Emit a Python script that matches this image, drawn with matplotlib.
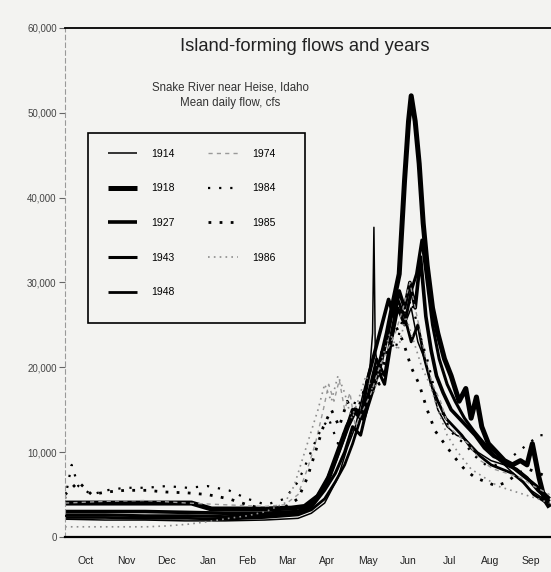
import matplotlib
matplotlib.use("Agg")
import matplotlib.pyplot as plt
from matplotlib.patches import Rectangle
import numpy as np

plt.rcParams['font.family'] = ['Liberation Sans', 'DejaVu Sans']

# Mean daily flow (thousand cfs), day 0 = Oct 1
D1914 = [0, 30, 60, 90, 120, 150, 175, 185, 195, 205, 212, 218, 224, 229, 231, 232, 233, 236, 240,
         245, 250, 255, 260, 265, 270, 275, 280, 287, 294, 301, 310, 320, 330, 340, 350, 364]
F1914 = [2.1, 2.0, 2.0, 1.9, 1.9, 2.0, 2.2, 2.8, 4.0, 7.0, 10.5, 13, 17, 20, 24, 36.5, 22, 19, 23,
         26, 28, 25, 27, 23, 21, 18, 15, 13, 12, 11.5, 10, 9, 8.5, 7, 5.5, 4.0]

D1918 = [0, 20, 45, 70, 95, 110, 130, 150, 170, 180, 190, 198, 205, 212, 218, 224, 230, 236, 242,
         247, 251, 255, 258, 260, 263, 266, 269, 272, 276, 280, 285, 290, 296, 301, 305, 309, 313,
         318, 324, 330, 336, 342, 347, 351, 356, 360, 364]
F1918 = [4.0, 4.0, 4.0, 4.0, 4.0, 3.3, 3.3, 3.3, 3.4, 3.6, 4.8, 7, 10, 13, 15, 14, 17, 20, 24,
         28, 31, 42, 49, 52, 49, 44, 37, 32, 27, 24, 21, 19, 16, 17.5, 14, 16.5, 13,
         11, 10, 9, 8.5, 9, 8.5, 11, 7, 4.5, 3.5]

D1927 = [0, 30, 60, 92, 120, 150, 175, 185, 195, 203, 210, 216, 222, 228, 233, 238, 243, 247, 251,
         255, 259, 263, 267, 271, 275, 279, 284, 290, 296, 302, 308, 315, 322, 330, 338, 346, 354, 364]
F1927 = [3.0, 3.0, 3.0, 2.9, 2.8, 2.8, 3.0, 3.8, 6, 9, 12, 15, 14, 19, 22, 25, 28, 26, 29,
         27, 30, 27, 33, 26, 22, 19, 17, 15, 14, 13, 12, 10.5, 9.5, 9, 8, 7, 6, 4.5]

D1943 = [0, 30, 60, 92, 120, 150, 175, 185, 195, 203, 210, 216, 222, 228, 234, 240, 245, 250, 255,
         260, 264, 268, 272, 276, 281, 287, 293, 300, 307, 315, 323, 331, 339, 347, 355, 364]
F1943 = [2.6, 2.6, 2.5, 2.5, 2.4, 2.5, 2.8, 3.5, 5.5, 7.5, 10, 13, 12, 16, 20, 18, 23, 27, 25,
         29, 31, 35, 30, 25, 21, 18, 16, 14, 12.5, 11, 9.5, 8.5, 8, 7, 5.5, 4.2]

D1948 = [0, 30, 60, 92, 120, 150, 175, 185, 195, 203, 210, 216, 222, 228, 234, 240, 245, 250, 255,
         260, 265, 270, 275, 280, 286, 292, 298, 305, 312, 320, 328, 336, 344, 352, 364]
F1948 = [2.3, 2.3, 2.2, 2.2, 2.1, 2.3, 2.6, 3.2, 4.5, 6.5, 8.5, 11, 14, 17, 21, 19, 24, 28, 26,
         23, 25, 21, 18, 16, 14, 13, 12, 10.5, 9.5, 8.5, 8, 7.5, 6.5, 5, 3.8]

D1974 = [0, 30, 60, 92, 120, 150, 165, 175, 182, 188, 194, 198, 202, 206, 210, 214, 218, 224, 230,
         236, 242, 248, 254, 259, 263, 267, 271, 276, 282, 288, 295, 303, 312, 322, 332, 342, 352, 364]
F1974 = [4.0, 4.2, 4.3, 4.0, 3.8, 3.6, 3.8, 5, 8, 11, 15, 18, 16, 18.5, 15, 17, 13, 15, 17,
         20, 22, 24, 27, 30, 27, 24, 21, 18, 16, 13, 12, 11, 9, 8, 7.5, 7, 6, 5]

D1984 = [0, 5, 10, 20, 31, 45, 61, 76, 92, 107, 123, 137, 151, 165, 175, 182, 190, 198, 205, 212,
         218, 224, 230, 236, 242, 248, 254, 260, 266, 272, 278, 285, 292, 300, 308, 316, 324, 332,
         340, 348, 356, 364]
F1984 = [4.5, 8.5, 6, 5, 5.5, 5.8, 5.8, 6.0, 5.8, 6.0, 5.5, 4.5, 3.8, 4.5, 6.5, 9, 12, 14, 11, 13,
         16, 14, 18, 21, 24, 22, 26, 28, 24, 21, 17, 14, 12, 11, 9.5, 8.5, 8.5, 9,
         10, 11, 12, 12]

D1985 = [0, 10, 20, 31, 45, 61, 76, 92, 107, 123, 137, 151, 165, 175, 182, 188, 194, 200, 206, 212,
         218, 224, 230, 236, 242, 248, 254, 260, 266, 272, 278, 285, 292, 300, 308, 316, 324, 332,
         340, 348, 356, 364]
F1985 = [5.0, 6.5, 5.0, 5.3, 5.5, 5.5, 5.3, 5.2, 5.0, 4.5, 3.8, 3.2, 3.5, 4.5, 7, 10, 13, 15, 13, 16,
         14, 17, 20, 18, 22, 25, 23, 20, 18, 15, 12.5, 11, 9.5, 8, 7, 6.5, 6, 6.5,
         7.5, 8, 7.5, 7]

D1986 = [0, 15, 31, 45, 61, 76, 92, 107, 123, 137, 151, 165, 172, 178, 184, 190, 195, 200, 205, 210,
         215, 220, 226, 232, 238, 244, 250, 256, 262, 268, 274, 280, 287, 295, 305, 315, 325, 335,
         345, 355, 364]
F1986 = [1.2, 1.2, 1.2, 1.2, 1.2, 1.3, 1.5, 1.8, 2.2, 2.5, 3, 4, 6, 9, 12, 15, 18, 16, 19, 17,
         14, 16, 19, 17, 21, 24, 22, 26, 23, 20, 18, 15, 12, 10, 8, 7, 6, 5.5,
         5, 4.5, 4]

MONTHS = ['Oct', 'Nov', 'Dec', 'Jan', 'Feb', 'Mar', 'Apr', 'May', 'Jun', 'Jul', 'Aug', 'Sep']
MONTH_START = [0, 31, 61, 92, 123, 151, 182, 212, 243, 273, 304, 335, 365]
Y_TICKS = [0, 10000, 20000, 30000, 40000, 50000, 60000]
Y_LABELS = ['0', '10,000', '20,000', '30,000', '40,000', '50,000', '60,000']

# (label, days, flows, style)
series = [
    ('1914', D1914, F1914, dict(color='k', lw=1.1)),
    ('1918', D1918, F1918, dict(color='k', lw=3.6)),
    ('1927', D1927, F1927, dict(color='k', lw=2.6)),
    ('1943', D1943, F1943, dict(color='k', lw=2.2)),
    ('1948', D1948, F1948, dict(color='k', lw=2.0)),
    ('1974', D1974, F1974, dict(color='0.6', lw=1.0, ls=(0, (3, 3)))),
    ('1984', D1984, F1984, dict(color='k', lw=1.6, ls=(0, (1, 4)))),
    ('1985', D1985, F1985, dict(color='k', lw=2.0, ls=(0, (1, 3)))),
    ('1986', D1986, F1986, dict(color='0.55', lw=1.2, ls=(0, (1, 2.5)))),
]

bg = '#f3f3f1'
fig = plt.figure(figsize=(5.51, 5.72), dpi=100, facecolor=bg)
ax = fig.add_axes([0.118, 0.0612, 0.882, 0.89], facecolor=bg)

handles = []
for label, days, flows, st in series:
    h, = ax.plot(days, np.array(flows) * 1000, label=label, solid_capstyle='butt',
                 solid_joinstyle='round', **st)
    handles.append(h)

ax.set_xlim(0, 365)
ax.set_ylim(0, 60000)
ax.set_yticks(Y_TICKS)
ax.set_yticklabels(Y_LABELS)
mids = [(a + b) / 2 for a, b in zip(MONTH_START[:-1], MONTH_START[1:])]
ax.set_xticks(mids)
ax.set_xticklabels(MONTHS)
ax.tick_params(axis='x', length=0, pad=14, labelsize=7.5, labelcolor='#222222')
ax.tick_params(axis='y', length=4, width=0.8, color='0.4', pad=2, labelsize=7, labelcolor='#444444')

ax.spines['right'].set_visible(False)
ax.spines['top'].set_linewidth(1.3)
ax.spines['bottom'].set_linewidth(1.6)
ax.spines['left'].set_color('0.6')
ax.spines['left'].set_linewidth(0.8)
ax.spines['left'].set_linestyle((0, (4, 3)))

ax.text(0.494, 0.963, 'Island-forming flows and years', transform=ax.transAxes,
        ha='center', va='center', fontsize=13.2, color='#222222')
ax.text(0.34, 0.882, 'Snake River near Heise, Idaho', transform=ax.transAxes,
        ha='center', va='center', fontsize=8.3, color='#333333')
ax.text(0.34, 0.853, 'Mean daily flow, cfs', transform=ax.transAxes,
        ha='center', va='center', fontsize=8.3, color='#333333')

ax.add_patch(Rectangle((0.047, 0.420), 0.447, 0.374, transform=ax.transAxes,
                       fill=False, lw=1.2, ec='k', zorder=5))
ax.legend(handles=handles, ncol=2, loc='upper left', bbox_to_anchor=(0.088, 0.763),
          frameon=False, fontsize=7.5, handlelength=2.8, handletextpad=1.4,
          columnspacing=3.2, labelspacing=2.37, borderpad=0, borderaxespad=0)

fig.savefig('out.png', dpi=100, facecolor=bg)
